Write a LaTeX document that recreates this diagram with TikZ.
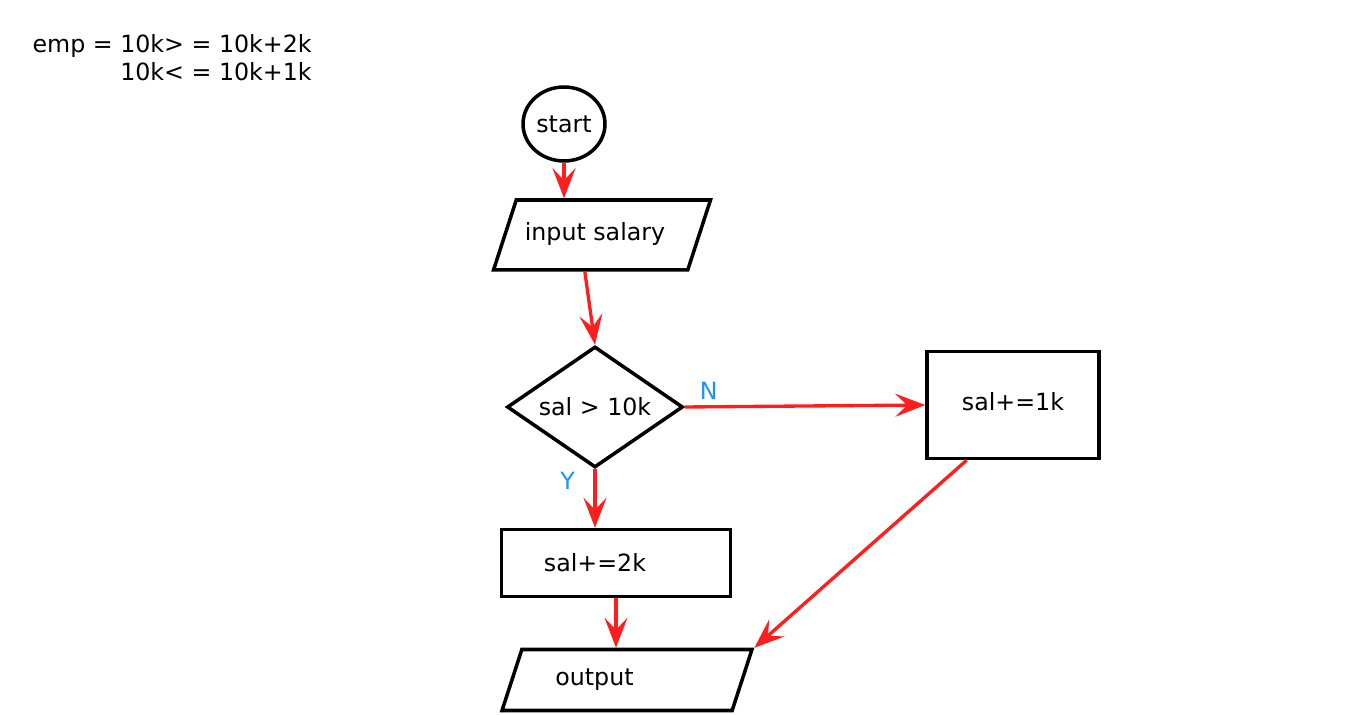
\documentclass[tikz,border=0pt]{standalone}
\usepackage{fontspec}
\setmainfont{DejaVu Sans}
\usepackage{xcolor}
\definecolor{flow}{HTML}{FF1E1E}
\definecolor{branch}{HTML}{1E90FF}
\usepackage{tikz}
\usetikzlibrary{arrows.meta,shapes.geometric}
\newcommand{\flowfont}{\fontsize{13.5}{16}\selectfont}

\begin{document}
\begin{tikzpicture}[x=0.02cm, y=-0.02cm,
    box/.style={draw=black, line width=2pt, font=\flowfont, inner sep=0pt},
    io/.style={box, trapezium, trapezium left angle=72, trapezium right angle=108,
               trapezium stretches body=true, text height=0.35cm, text depth=0.12cm},
    flowarrow/.style={draw=flow, line width=1.9pt,
                      -{Stealth[length=0.6cm, width=0.46cm, inset=0.24cm]}},
    branchlabel/.style={text=branch, font=\flowfont}]
  \useasboundingbox (0,0) rectangle (1366,715);
  % note in the corner
  \node[font=\flowfont, align=right, anchor=north east, inner sep=0pt] (note)
       at (312,34) {emp = 10k> = 10k+2k\\10k< = 10k+1k};
  % the chart
  \node[box, ellipse, minimum width=1.64cm, minimum height=1.48cm] (start)
       at (564,124) {start};
  \node[io, minimum width=4.34cm, inner ysep=0.465cm] (input)
       at (602,235) {input salary\hspace*{0.28cm}};
  \node[box, diamond, aspect=1.45, minimum width=3.52cm, minimum height=2.42cm] (check)
       at (595,407) {sal > 10k};
  \node[box, rectangle, minimum width=3.44cm, minimum height=2.14cm] (addone)
       at (1013,405) {\raisebox{0.14cm}{sal+=1k}};
  \node[box, rectangle, minimum width=4.58cm, minimum height=1.34cm] (addtwo)
       at (616,563) {sal+=2k\hspace*{0.84cm}};
  \node[io, minimum width=5.0cm, inner ysep=0.375cm] (output)
       at (627,680) {output\hspace*{1.3cm}};
  % connectors
  \draw[flowarrow] (start.south) -- (start.south |- input.north);
  \draw[flowarrow] (input.245) -- (check.north);
  \draw[flowarrow] (check.east) -- (addone.west)
       node[branchlabel, pos=0.1, above] (nolab) {N};
  \draw[flowarrow] (check.south) -- (check.south |- addtwo.north)
       node[branchlabel, pos=0.2, left=0.25cm] (yeslab) {Y};
  \draw[flowarrow] (addtwo.south) -- (addtwo.south |- output.north);
  \draw[flowarrow] (addone.230) -- (output.top right corner);
\end{tikzpicture}
\end{document}
